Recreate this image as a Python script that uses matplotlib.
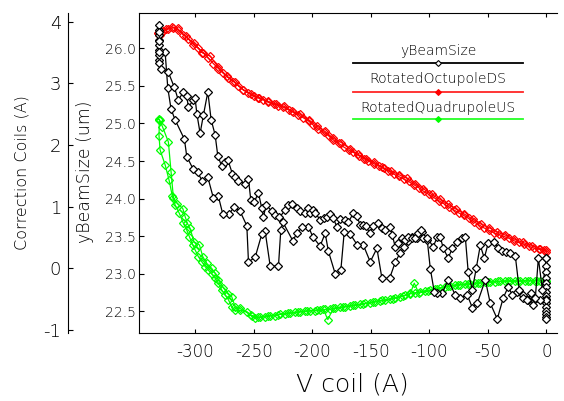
import numpy as np
import matplotlib
matplotlib.use("Agg")
import matplotlib.pyplot as plt
from matplotlib.ticker import FormatStrFormatter

plt.rcParams['font.family'] = ['DejaVu Sans']
plt.rcParams['font.weight'] = 'light'
plt.rcParams['axes.labelweight'] = 'light'
plt.rcParams['axes.unicode_minus'] = False

# ---------------- data ----------------
# yBeamSize (um), inner axis
beam_zero_cluster_x = [0.0] * 15
beam_zero_cluster_y = [23.21, 23.10, 23.02, 22.95, 22.88, 22.82, 22.76, 22.71, 22.66,
                       22.61, 22.56, 22.51, 22.47, 22.43, 22.40]

# lower branch (listed left -> right)
beam_low_x = [-325.6, -323.3, -320.5, -317.1, -309.1, -307.1, -301.5, -297.7, -293.8, -289.2,
              -284.4, -280.1, -276.4, -270.7, -266.7, -261.5, -255.8, -254.4, -248.7, -243.0,
              -240.2, -235.9, -228.8, -226.8, -225.1, -216.5, -213.1, -208.3, -203.2, -199.4,
              -193.2, -188.9, -186.1, -180.3, -175.5, -172.6, -167.5, -161.3, -156.2, -150.4,
              -144.7, -140.4, -133.9, -128.9, -124.8, -121.4, -118.0, -114.5, -110.3, -106.0,
              -101.7, -99.1, -95.7, -93.2, -88.9, -83.8, -77.8, -73.5, -67.5, -63.2,
              -59.0, -52.1, -47.9, -41.9, -36.8, -32.5, -29.1, -24.8, -19.7, -15.4,
              -11.1, -5.1, 0.0]
beam_low_y = [25.95, 25.47, 25.19, 25.05, 24.79, 24.56, 24.39, 24.35, 24.23, 24.29,
              24.01, 24.03, 23.80, 23.80, 23.89, 23.83, 23.64, 23.16, 23.22, 23.53,
              23.57, 23.11, 23.10, 23.58, 23.69, 23.44, 23.54, 23.62, 23.63, 23.49,
              23.37, 23.54, 23.30, 23.00, 23.05, 23.56, 23.53, 23.38, 23.38, 23.16,
              23.34, 22.94, 22.94, 23.16, 23.28, 23.36, 23.44, 23.49, 23.48, 23.56,
              23.45, 23.07, 22.76, 22.75, 22.75, 22.92, 22.72, 22.68, 22.72, 22.55,
              22.61, 22.92, 22.61, 22.40, 22.68, 22.83, 22.72, 22.76, 22.72, 22.65,
              22.59, 22.65, 22.65]

beam_left_cluster_x = [-331.0] * 12
beam_left_cluster_y = [25.84, 25.91, 25.98, 26.04, 26.11, 26.18, 26.24, 26.31, 26.22,
                       26.10, 25.95, 25.80]

# upper branch (left -> right)
beam_up_x = [-329.1, -322.8, -317.7, -314.3, -310.0, -307.1, -305.7, -301.5, -300.0, -298.5,
             -295.7, -292.9, -289.1, -286.3, -282.9, -280.6, -277.2, -274.4, -272.1, -268.1,
             -265.8, -263.0, -257.3, -254.4, -252.4, -249.6, -245.9, -243.0, -241.6, -239.3,
             -234.4, -231.6, -227.9, -223.1, -220.3, -217.4, -213.1, -210.3, -206.0, -203.2,
             -201.7, -198.9, -197.4, -193.2, -190.3, -187.4, -184.6, -181.8, -178.9, -176.1,
             -171.8, -169.0, -164.7, -161.8, -159.0, -156.2, -153.8, -151.0, -147.9, -143.6,
             -140.2, -137.6, -133.3, -131.6, -129.1, -126.5, -123.1, -120.5, -117.9, -114.5,
             -112.0, -109.4, -106.8, -105.1, -101.7, -96.6, -93.2, -90.6, -88.0, -83.8,
             -80.3, -76.1, -71.8, -69.2, -66.7, -63.2, -59.8, -56.4, -53.0, -49.6,
             -44.4, -41.0, -37.6, -34.2, -30.8, -26.5, -23.1, -19.7, -16.2, -12.8,
             -9.4, -6.8, -3.4, 0.0]
beam_up_y = [25.72, 25.68, 25.48, 25.31, 25.42, 25.36, 25.22, 25.31, 25.34, 25.13,
             24.87, 25.11, 25.42, 25.05, 24.85, 24.57, 24.43, 24.49, 24.52, 24.33,
             24.29, 24.24, 24.20, 24.26, 23.98, 23.95, 24.08, 23.87, 23.76, 23.92,
             23.83, 23.78, 23.75, 23.85, 23.92, 23.93, 23.87, 23.84, 23.81, 23.87,
             23.81, 23.85, 23.81, 23.72, 23.74, 23.76, 23.80, 23.74, 23.62, 23.73,
             23.72, 23.69, 23.81, 23.77, 23.65, 23.65, 23.64, 23.54, 23.64, 23.68,
             23.61, 23.58, 23.62, 23.52, 23.36, 23.41, 23.48, 23.45, 23.49, 23.48,
             23.48, 23.54, 23.58, 23.48, 23.48, 23.36, 23.49, 23.49, 23.34, 23.21,
             23.34, 23.42, 23.48, 23.49, 23.02, 22.79, 23.08, 23.38, 23.21, 23.41,
             23.42, 23.34, 23.30, 23.29, 23.28, 23.24, 22.79, 22.68, 22.65, 22.75,
             22.68, 23.21, 22.79, 23.21]

# RotatedOctupoleDS (A), outer axis
octu_out_x = [0.0, -5, -12, -20, -28, -35, -42, -49, -56, -63, -70, -77, -84, -91, -98,
              -105, -112, -119, -126, -133, -140, -147, -154, -161, -168, -175, -182, -189,
              -196, -203, -210, -217, -224, -231, -238, -245, -252, -259, -266, -273, -280,
              -287, -294, -301, -308, -315, -320, -325, -329, -331]
octu_out_y = [0.29, 0.32, 0.37, 0.42, 0.48, 0.54, 0.59, 0.66, 0.72, 0.80, 0.88, 0.96, 1.04,
              1.12, 1.20, 1.29, 1.37, 1.46, 1.52, 1.58, 1.64, 1.72, 1.78, 1.85, 1.94, 2.04,
              2.11, 2.22, 2.31, 2.41, 2.50, 2.55, 2.63, 2.67, 2.71, 2.77, 2.83, 2.90, 3.02,
              3.12, 3.26, 3.44, 3.50, 3.65, 3.76, 3.89, 3.92, 3.88, 3.82, 3.79]
octu_back_x = [-331.6, -331.3, -329.9, -327.1, -322.8, -318.5, -314.2, -310.0, -305.7, -301.4,
               -297.2, -292.9, -288.6, -284.3, -280.1, -275.8, -271.5, -267.2, -263.0, -258.7,
               -254.4, -250.1, -245.9, -241.6, -237.3, -233.0, -228.8, -224.5, -220.2, -216.0,
               -211.7, -207.4, -203.1, -198.9, -194.6, -190.3, -186.0, -181.8, -177.5, -173.2,
               -168.9, -164.7, -160.4, -156.1, -151.9, -147.6, -143.3, -139.0, -134.8, -130.5,
               -126.2, -121.9, -117.7, -113.4, -109.1, -104.8, -100.6, -96.3, -92.0, -87.7,
               -83.5, -79.2, -74.9, -70.7, -66.4, -62.1, -57.8, -53.6, -49.3, -45.0,
               -40.7, -36.5, -32.2, -27.9, -23.6, -19.4, -15.1, -10.8, -6.6, -2.3, 0.0]
octu_back_y = [3.82, 3.81, 3.78, 3.85, 3.88, 3.90, 3.86, 3.79, 3.72, 3.63,
               3.57, 3.49, 3.41, 3.32, 3.24, 3.16, 3.09, 3.03, 2.96, 2.89,
               2.84, 2.79, 2.76, 2.73, 2.69, 2.66, 2.64, 2.61, 2.57, 2.53,
               2.49, 2.44, 2.39, 2.32, 2.26, 2.21, 2.15, 2.08, 2.03, 1.97,
               1.92, 1.88, 1.83, 1.78, 1.74, 1.70, 1.66, 1.62, 1.58, 1.53,
               1.49, 1.45, 1.41, 1.36, 1.31, 1.25, 1.20, 1.15, 1.10, 1.05,
               1.00, 0.95, 0.90, 0.86, 0.81, 0.76, 0.71, 0.66, 0.62, 0.58,
               0.55, 0.52, 0.49, 0.45, 0.42, 0.39, 0.36, 0.33, 0.31, 0.29, 0.27]

# RotatedQuadrupoleUS (A), outer axis
quad_flat_x = [0, -5.1, -9.4, -13.7, -17.9, -22.2, -26.5, -30.8, -35.0, -39.3, -43.6, -47.9,
               -52.1, -56.4, -60.7, -65.0, -69.2, -73.5, -77.8, -82.1, -86.3, -90.6, -94.9,
               -99.1, -103.4, -107.7, -112.0, -116.2, -120.5, -124.8, -129.1, -133.3, -137.6,
               -141.9, -146.2, -150.4, -154.7, -159.0, -163.2, -167.5, -171.8, -176.1, -180.3,
               -184.6, -188.9, -193.2, -197.4, -201.7, -206.0, -210.3, -214.5, -218.8, -223.1,
               -227.4, -231.6, -235.9, -240.2, -244.4, -248.7]
quad_flat_y = [-0.200, -0.200, -0.200, -0.200, -0.200, -0.205, -0.205, -0.205, -0.211, -0.211,
               -0.216, -0.222, -0.227, -0.232, -0.243, -0.249, -0.254, -0.265, -0.270, -0.286,
               -0.297, -0.314, -0.335, -0.351, -0.362, -0.378, -0.395, -0.405, -0.438, -0.459,
               -0.476, -0.497, -0.514, -0.524, -0.541, -0.557, -0.568, -0.584, -0.595, -0.611,
               -0.622, -0.632, -0.643, -0.665, -0.665, -0.676, -0.686, -0.686, -0.697, -0.703,
               -0.714, -0.719, -0.741, -0.741, -0.768, -0.773, -0.784, -0.795, -0.811]
quad_rise_x = [-251.6, -255.8, -261.5, -265.8, -268.7, -271.5, -274.4, -277.2, -280.1, -282.9,
               -285.8, -288.6, -291.5, -294.3, -297.2, -300.0, -302.0, -304.8, -307.1, -310.0,
               -313.4, -317.1, -319.4, -322.2, -325.6, -329.9, -330.8, -330.5, -331.0, -330.0]
quad_rise_y = [-0.78, -0.70, -0.68, -0.68, -0.62, -0.51, -0.43, -0.35, -0.24, -0.16,
               -0.09, -0.03, 0.03, 0.11, 0.19, 0.30, 0.38, 0.51, 0.62, 0.73,
               0.89, 1.03, 1.17, 1.43, 1.68, 1.92, 2.15, 2.41, 2.42, 2.40]
quad_fall_x = [-327.9, -322.8, -320.5, -318.5, -315.1, -310.5, -308.5, -306.6, -304.3, -300.9,
               -296.3, -293.4, -290.0, -285.8, -282.9, -280.1, -275.8, -271.5, -268.7, -265.8,
               -261.5]
quad_fall_y = [2.30, 2.05, 1.57, 1.14, 1.05, 0.97, 0.84, 0.73, 0.65, 0.43,
               0.38, 0.19, 0.08, 0.00, -0.08, -0.19, -0.32, -0.41, -0.46, -0.62,
               -0.65]
quad_return_x = [-252.0, -246.5, -238.0, -229.5, -221.0, -212.5, -204.0, -195.5, -190.5, -186.6,
                 -182.0, -174.0, -165.5, -157.0, -148.0, -140.0, -131.0, -122.5, -116.5, -112.8,
                 -109.0, -101.0, -93.0, -84.0, -75.5, -67.0, -58.5, -50.0, -41.5, -33.0,
                 -24.5, -16.0, -8.0, 0.0]
quad_return_y = [-0.76, -0.79, -0.77, -0.75, -0.73, -0.71, -0.69, -0.675, -0.665, -0.83,
                 -0.65, -0.63, -0.60, -0.58, -0.55, -0.52, -0.49, -0.45, -0.42, -0.24,
                 -0.40, -0.37, -0.33, -0.29, -0.27, -0.255, -0.24, -0.225, -0.21, -0.205,
                 -0.20, -0.20, -0.20, -0.20]

x_ticks = [-300, -250, -200, -150, -100, -50, 0]
coil_ticks = [-1, 0, 1, 2, 3, 4]
beam_ticks = [22.5, 23.0, 23.5, 24.0, 24.5, 25.0, 25.5, 26.0]
legend_labels = ['yBeamSize', 'RotatedOctupoleDS', 'RotatedQuadrupoleUS']

# ---------------- build series ----------------
beam_x = beam_zero_cluster_x + beam_low_x[::-1] + beam_left_cluster_x + beam_up_x
beam_y = beam_zero_cluster_y + beam_low_y[::-1] + beam_left_cluster_y + beam_up_y
octu_x = octu_out_x + octu_back_x
octu_y = octu_out_y + octu_back_y
quad_x = quad_flat_x + quad_rise_x + quad_fall_x + quad_return_x
quad_y = quad_flat_y + quad_rise_y + quad_fall_y + quad_return_y

RED = '#ff0000'
GREEN = '#00ff00'

fig = plt.figure(figsize=(5.64, 4.01), dpi=100)
ax = fig.add_axes([0.24645, 0.16958, 0.7411, 0.798])

mk_c = dict(marker='D', ms=3.9, mew=0.9, lw=0.9)
ax.plot(octu_x, octu_y, color=RED, mfc='none', mec=RED, **mk_c)
ax.plot(quad_x, quad_y, color=GREEN, mfc='none', mec=GREEN, **mk_c)

ax.set_xlim(-347.9, 9.1)
ax.set_ylim(-1.048, 4.141)
ax.spines['right'].set_visible(False)
ax.spines['left'].set_position(('outward', 51.1))
ax.set_xticks(x_ticks)
ax.set_yticks(coil_ticks)
ax.tick_params(axis='x', direction='in', top=True, length=3, width=0.8,
               labelsize=12, pad=7)
ax.tick_params(axis='y', direction='in', length=3.6, width=0.8, labelsize=13, pad=5)
ax.set_ylabel('Correction Coils (A)', fontsize=11.5)
ax.yaxis.set_label_coords(-0.263, 0.502)
ax.set_xlabel('V coil (A)', fontsize=18)
ax.xaxis.set_label_coords(0.511, -0.122)

ax2 = ax.twinx()
ax2.yaxis.tick_left()
ax2.yaxis.set_label_position('left')
for s in ['top', 'right', 'bottom']:
    ax2.spines[s].set_visible(False)
ax2.spines['left'].set_visible(True)
ax2.plot(beam_x, beam_y, color='black', mfc='white', mec='black',
         marker='D', ms=3.6, mew=0.9, lw=0.9)
ax2.set_ylim(22.214, 26.469)
ax2.set_yticks(beam_ticks)
ax2.yaxis.set_major_formatter(FormatStrFormatter('%.1f'))
ax2.tick_params(axis='y', direction='in', length=3.6, width=0.8, labelsize=10, pad=2)
ax2.set_ylabel('yBeamSize (um)', fontsize=12.5)
ax2.yaxis.set_label_coords(-0.108, 0.503)

for sp in list(ax.spines.values()) + list(ax2.spines.values()):
    sp.set_linewidth(0.8)

# legend (text above line sample)
leg_colors = ['black', RED, GREEN]
leg_face = ['white', RED, GREEN]
leg_line_y = [0.84375, 0.7541, 0.6678]
leg_text_y = [0.8688, 0.7803, 0.6916]
for lab, c, fc, ly, ty in zip(legend_labels, leg_colors, leg_face, leg_line_y, leg_text_y):
    ax2.plot([0.512, 0.9187], [ly, ly], transform=ax2.transAxes, color=c, lw=1.3,
             alpha=0.85 if c != 'black' else 1.0, clip_on=False)
    ax2.plot([0.7153], [ly], transform=ax2.transAxes, marker='D', ms=3.0, mfc=fc,
             mec=c, mew=0.8, clip_on=False)
    ax2.text(0.7153, ty, lab, transform=ax2.transAxes, ha='center', va='baseline',
             fontsize=10)

fig.savefig('out.png', dpi=100)
